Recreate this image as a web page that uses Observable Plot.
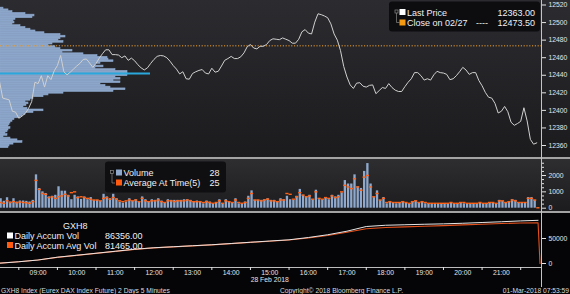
<!DOCTYPE html>
<html><head><meta charset="utf-8">
<script src="https://cdn.jsdelivr.net/npm/d3@7"></script>
<script src="https://cdn.jsdelivr.net/npm/@observablehq/plot@0.6"></script>
<style>
html,body{margin:0;padding:0;background:#000;}
#root{position:relative;width:570px;height:294px;overflow:hidden;background:#050507;font-family:"Liberation Sans",Arial,sans-serif;}
.bg{position:absolute;left:0;width:570px;}
.layer{position:absolute;left:0;}
</style></head>
<body><div id="root">
<div class="bg" style="top:0;height:157px;background:linear-gradient(#2c2c30,#1b1b1e);"></div>
<div class="bg" style="top:157px;height:2px;background:#a3a3a3;"></div>
<div class="bg" style="top:159px;height:52px;background:linear-gradient(#2e2e31,#1c1c1f);"></div>
<div class="bg" style="top:211px;height:2px;background:#a3a3a3;"></div>
<div class="bg" style="top:213px;height:81px;background:#050508;"></div>
</div>
<script>
// ---------- data ----------
const sessionDay = [2018, 1, 28];           // 28 Feb 2018
const barStart = "08:00";
const barMinutes = 5;
const prevClose = 12473.5;                   // Close on 02/27
const lastPriceValue = 12363.00;

// Last price, one value per 5-minute bar (08:00 .. 21:55)
const lastPrice = [
12433,12414,12413,12412,12399,12398,12391,12393.5,12396.5,12402,
12410,12432,12430.5,12439.5,12426.5,12439.5,12435,12445,12451,12462.5,
12444,12440.5,12443.5,12447,12450.5,12453.5,12458,12458.5,12454,12449,
12453.5,12459.5,12464.5,12469,12469,12463.5,12463.5,12463,12460,12462,
12457,12459.5,12456.5,12452,12448.5,12446,12448.5,12453.5,12458,12461.5,
12462.5,12462,12460,12456,12451,12447,12441.5,12444,12436,12435.5,
12442,12444,12445.5,12446.5,12442.5,12441.5,12448,12443.5,12444.5,12450.5,
12457,12459,12461.5,12459,12459,12461,12465.5,12472.5,12475,12471,
12470,12473,12473,12475,12479.5,12481.5,12481,12480.5,12482.5,12481,
12479.5,12476.5,12476.5,12481,12489.5,12492,12488,12487,12500.5,12510,
12509,12507.5,12505.5,12498.5,12487,12480,12468,12450,12438,12429,
12425,12431,12431.5,12427.5,12426.5,12428.5,12429,12419,12422.5,12426,
12425,12430.5,12426,12423,12421.5,12421.5,12427,12432,12436,12443,
12443,12439.5,12434.5,12436,12434.5,12440.5,12444.5,12443,12442.5,12441,
12435,12436,12439.5,12444,12449,12446,12441,12443,12443,12434,
12428,12420.5,12415,12414,12408,12397,12399,12404.5,12398.5,12386.5,
12383,12385,12387.5,12403,12388,12367,12361.5,12363];

// Volume per 5-minute bar
const volume = [
580,420,640,380,580,380,440,440,420,380,480,
2040,1200,1000,900,690,730,790,1310,1040,1040,
790,520,790,690,540,690,520,650,480,480,420,850,690,580,850,580,
375,310,375,580,420,520,375,690,520,375,520,480,580,440,310,520,480,480,480,480,520,520,480,375,440,
375,270,440,375,270,310,520,270,520,375,310,580,270,230,380,730,1060,480,480,480,
520,580,480,480,375,580,520,730,520,480,730,1150,790,690,790,520,1100,520,520,650,520,790,690,790,
940,1690,1480,1480,2040,1310,1210,2250,2730,1480,650,1060,
480,650,270,375,310,270,310,375,310,270,375,440,310,375,270,230,230,230,230,230,
230,270,310,230,270,310,270,230,230,250,270,310,230,270,330,330,270,480,420,310,
375,520,480,310,310,310,650,650,480,28];

// Average At Time(5) per bar
const avgAtTime = [
350,300,450,350,400,330,380,350,330,300,400,
1700,1150,900,850,650,700,600,700,750,850,
750,950,1000,650,700,650,600,550,500,500,450,600,650,550,650,550,
450,400,450,500,450,500,400,600,450,400,450,450,500,400,350,450,450,400,450,450,450,500,450,400,400,
400,350,400,350,300,350,450,300,450,400,350,500,350,300,350,600,900,500,500,450,
500,550,450,450,400,500,500,900,850,550,700,950,800,700,750,550,1000,600,550,650,600,750,650,700,
1000,1400,1300,1200,1800,1300,1100,1900,2000,1300,700,900,
500,600,350,400,350,350,350,400,350,300,400,450,350,400,350,300,300,300,300,300,
300,300,350,300,300,350,350,300,300,300,300,350,300,300,350,350,300,450,450,350,
400,500,450,350,350,350,600,600,500,25];

// Volume-at-price profile (2-point bins, relative volume)
const profilePrice = [
12516,12514,12512,12510,12508,12506,12504,12502,12500,12498,
12496,12494,12492,12490,12488,12486,12484,12482,12480,12478,
12476,12474,12472,12470,12468,12466,12464,12462,12460,12458,
12456,12454,12452,12450,12448,12446,12444,12442,12440,12438,
12436,12434,12432,12430,12428,12426,12424,12422,12420,12418,
12416,12414,12412,12410,12408,12406,12404,12402,12400,12398,
12396,12394,12392,12390,12388,12386,12384,12382,12380,12378,
12376,12374,12372,12370,12368,12366,12364,12362,12360,12358];
const profileVol = [
3,8,12,25,34,32,15,13,14,12,
20,25,30,35,44,60,65,60,58,63,
52,48,55,60,72,62,83,97,107,108,
113,100,95,103,95,115,127,127,127,115,
120,113,120,100,105,110,125,113,63,48,
43,33,30,25,28,26,23,27,43,33,
25,22,20,14,12,10,9,8,10,8,
7,5,7,3,10,17,22,13,9,8];
const pocPrice = 12442;
const pocVol = 150;

// Daily accumulated volume
const accumTimes = ["08:00","08:30","09:00","09:30","10:00","10:30","11:00","11:30","12:00","12:30","13:00","13:30","14:00","14:30","15:00","15:30","16:00","16:30","17:00","17:30","18:00","18:30","19:00","19:30","20:00","20:30","21:00","21:30","21:57"];
const accumVol = [600,3500,7000,12600,16500,20500,24500,28500,31500,33500,35500,37500,40000,42500,45000,47400,52000,57500,64600,74000,76500,77500,78500,79300,80500,82000,83500,85200,86356];
const accumAvgTimes = ["08:00","08:30","09:00","09:30","10:00","10:30","11:00","11:30","12:00","12:30","13:00","13:30","14:00","14:30","15:00","15:30","16:00","16:30","17:00","17:30","18:00","18:30","19:00","19:30","20:00","20:30","21:00","21:30","21:57","22:00"];
const accumAvg = [600,3400,6900,12300,16200,20200,24200,28200,31200,33200,35200,37200,39700,42200,44600,47000,51000,56000,62500,69500,72000,73300,74500,75800,77200,78600,80000,81000,81465,0];

// Axis ticks / labels
const hourLabels = ["09:00","10:00","11:00","12:00","13:00","14:00","15:00","16:00","17:00","18:00","19:00","20:00","21:00"];
const halfHourTicks = ["08:30","09:30","10:30","11:30","12:30","13:30","14:30","15:30","16:30","17:30","18:30","19:30","20:30","21:30"];
const priceTicks = [12360,12380,12400,12420,12440,12460,12480,12500,12520];
const volTicks = [0,1000,2000];
const volMinorTicks = [250,500,750,1250,1500,1750,2250,2500,2750];
const accumTicks = [0,50000];
const dateLabel = "28 Feb 2018";

// ---------- build ----------
const T = hm => { const [h,m] = hm.split(":").map(Number); return new Date(sessionDay[0], sessionDay[1], sessionDay[2], h, m); };
const t0 = T(barStart);
const barTime = i => new Date(+t0 + i * barMinutes * 60000);
const priceRows = lastPrice.map((p,i) => ({t: barTime(i), p}));
const volRows = volume.map((v,i) => ({t: barTime(i), t2: barTime(i+1), v, a: avgAtTime[i]}));
const profRows = profilePrice.map((p,i) => ({p, v: profileVol[i]}));
const accRows = accumTimes.map((s,i) => ({t: T(s), v: accumVol[i]}));
const avgRows = accumAvgTimes.map((s,i) => ({t: T(s), v: accumAvg[i]}));

const FONT = "Liberation Sans, Arial, sans-serif";
const xScale = {type: "time", domain: [T("08:00"), T("22:00")], range: [-1, 539.5], axis: null};
const baseStyle = {background: "transparent", overflow: "visible", fontFamily: FONT, color: "#e4e4e4", fontSize: "6.8px"};
const root = document.getElementById("root");
function place(node, top) { node.classList.add("layer"); node.style.top = top + "px"; root.appendChild(node); }

const yPrice = {domain: [12360, 12520], range: [145, 4.5], axis: null};

const profileChart = Plot.plot({
  width: 570, height: 157, margin: 0,
  style: baseStyle,
  x: {domain: [0, 570], range: [0, 570], axis: null},
  y: yPrice,
  marks: [
    Plot.rect(profRows, {x1: d => 0, x2: "v", y1: d => d.p - 1, y2: d => d.p + 1, fill: "#8ca6ca", stroke: "#8ca6ca", strokeWidth: 0.6}),
    Plot.ruleY([pocPrice], {x1: d => 0, x2: d => pocVol, stroke: "#2aa8de", strokeWidth: 2})
  ]
});
place(profileChart, 0);

const priceChart = Plot.plot({
  width: 570, height: 157, marginLeft: 0, marginRight: 29, marginTop: 0, marginBottom: 0,
  style: baseStyle,
  x: xScale,
  y: yPrice,
  marks: [
    Plot.ruleY([prevClose], {stroke: "#f0a030", strokeWidth: 1, strokeDasharray: "1.2,1.6"}),
    Plot.line(priceRows, {x: "t", y: "p", stroke: "#d0d0d0", strokeWidth: 1}),
    Plot.axisY({anchor: "right", ticks: priceTicks, tickSize: 4, tickPadding: 3, tickFormat: d => String(d), label: null, fontSize: 6.8})
  ]
});
place(priceChart, 0);

const volChart = Plot.plot({
  width: 570, height: 52, marginLeft: 0, marginRight: 29, marginTop: 0, marginBottom: 0,
  style: baseStyle,
  x: xScale,
  y: {domain: [0, 2000], range: [48.7, 16], axis: null},
  marks: [
    Plot.rectY(volRows, {x1: "t", x2: "t2", y: "v", fill: "#8fa9cd", insetLeft: 0.45, insetRight: 0.45}),
    Plot.ruleY(volRows, {x1: "t", x2: "t2", y: "a", stroke: "#ff6216", strokeWidth: 1.4}),
    Plot.axisY({anchor: "right", ticks: volMinorTicks, tickSize: 2, tickFormat: () => "", label: null}),
    Plot.axisY({anchor: "right", ticks: volTicks, tickSize: 4, tickPadding: 3, tickFormat: d => String(d), label: null, fontSize: 6.8})
  ]
});
place(volChart, 159);

const accChart = Plot.plot({
  width: 570, height: 81, marginLeft: 0, marginRight: 29, marginTop: 0, marginBottom: 27,
  style: baseStyle,
  x: xScale,
  y: {domain: [0, 50000], range: [50, 25], axis: null},
  marks: [
    Plot.frame({anchor: "bottom", stroke: "#bdbdbd"}),
    Plot.line(avgRows, {x: "t", y: "v", stroke: "#e4511d", strokeWidth: 1.1}),
    Plot.line(accRows, {x: "t", y: "v", stroke: "#e6e6e6", strokeWidth: 1}),
    Plot.axisY({anchor: "right", ticks: accumTicks, tickSize: 4, tickPadding: 3, tickFormat: d => String(d), label: null, fontSize: 6.8}),
    Plot.axisX({anchor: "bottom", ticks: halfHourTicks.map(T), tickSize: 3, tickFormat: () => "", label: null}),
    Plot.axisX({anchor: "bottom", ticks: hourLabels.map(T), tickSize: 0, tickPadding: 3, tickFormat: d3.timeFormat("%H:%M"), label: null, fontSize: 6.8}),
    Plot.text([dateLabel], {x: d => T("15:00"), frameAnchor: "bottom", dy: 14, text: d => d, fill: "#e4e4e4", fontSize: 6.8})
  ]
});
place(accChart, 213);

// ---------- overlay: legends, footer, axis line ----------
const svg = d3.create("svg").attr("width", 570).attr("height", 294)
  .style("position", "absolute").style("left", "0px").style("top", "0px")
  .style("font-family", FONT);
svg.append("rect").attr("x", 541).attr("y", 0).attr("width", 1).attr("height", 287).attr("fill", "#c4c4c4");

function legendRow(g, x, y, color, label, value, valueX, anchor) {
  g.append("rect").attr("x", x).attr("y", y - 6.5).attr("width", 6).attr("height", 6).attr("fill", color);
  g.append("text").attr("x", x + 7.5).attr("y", y).attr("fill", "#f0f0f0").attr("font-size", 9).text(label);
  g.append("text").attr("x", valueX).attr("y", y).attr("fill", "#f0f0f0").attr("font-size", 9).attr("text-anchor", anchor).text(value);
}
function connector(g, x, y1, y2) {
  g.append("rect").attr("x", x - 1.5).attr("y", y1 - 1.5).attr("width", 3).attr("height", 3).attr("fill", "none").attr("stroke", "#8a8a8a").attr("stroke-width", 0.7);
  g.append("path").attr("d", `M${x},${y1 + 1.5}V${y2}H${x + 3}`).attr("fill", "none").attr("stroke", "#8a8a8a").attr("stroke-width", 0.7);
}

// price legend
const gp = svg.append("g");
gp.append("rect").attr("x", 389).attr("y", 1.5).attr("width", 151).attr("height", 30).attr("rx", 3).attr("fill", "#0d0d10");
connector(gp, 396.5, 11.5, 22.5);
legendRow(gp, 399.5, 15.5, "#ffffff", "Last Price", lastPriceValue.toFixed(2), 535, "end");
legendRow(gp, 399.5, 26, "#f39a12", "Close on 02/27", prevClose.toFixed(2), 535, "end");
gp.append("text").attr("x", 476).attr("y", 26).attr("fill", "#f0f0f0").attr("font-size", 9).text("----");

// volume legend
const gv = svg.append("g");
gv.append("rect").attr("x", 105).attr("y", 161.5).attr("width", 121).attr("height", 31).attr("rx", 3).attr("fill", "#0f0f12");
connector(gv, 112, 172, 183);
legendRow(gv, 116, 176, "#8fa9cd", "Volume", String(volume[volume.length - 1]), 219.5, "end");
legendRow(gv, 116, 186, "#ff5a10", "Average At Time(5)", String(avgAtTime[avgAtTime.length - 1]), 219.5, "end");

// accum legend
const ga = svg.append("g");
ga.append("text").attr("x", 63).attr("y", 229).attr("fill", "#f0f0f0").attr("font-size", 9).text("GXH8");
legendRow(ga, 7, 239, "#ffffff", "Daily Accum Vol", accumVol[accumVol.length - 1].toFixed(2), 105, "start");
legendRow(ga, 7, 248.5, "#ff5a10", "Daily Accum Avg Vol", accumAvg[accumAvg.length - 2].toFixed(2), 105, "start");

// footer
const foot = svg.append("g").attr("fill", "#dcdcdc").attr("font-size", 6.7);
foot.append("text").attr("x", 1).attr("y", 292.5).text("GXH8 Index (Eurex DAX Index Future) 2 Days 5 Minutes");
foot.append("text").attr("x", 280).attr("y", 292.5).text("Copyright\u00A9 2018 Bloomberg Finance L.P.");
foot.append("text").attr("x", 569).attr("y", 292.5).attr("text-anchor", "end").text("01-Mar-2018 07:53:59");

root.appendChild(svg.node());
</script>
</body></html>
